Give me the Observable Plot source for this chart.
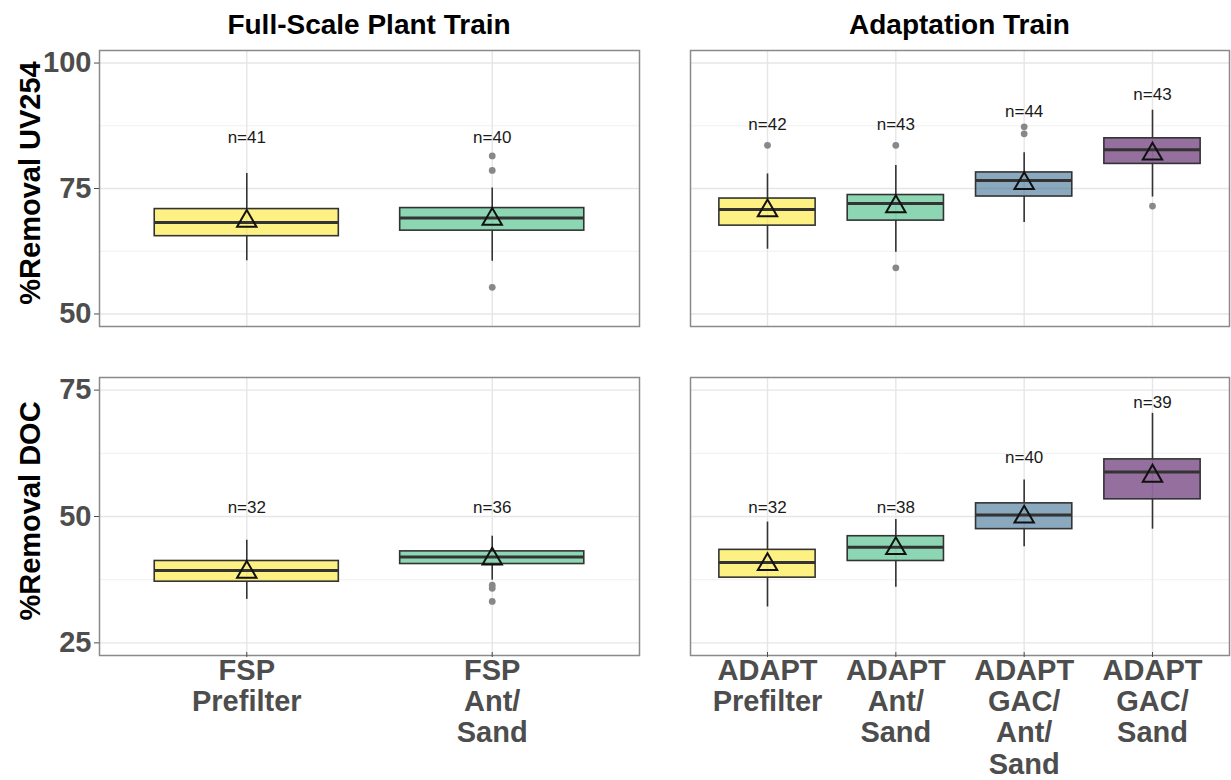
<!DOCTYPE html>
<html>
<head>
<meta charset="utf-8">
<script src="https://cdn.jsdelivr.net/npm/d3@7"></script>
<script src="https://cdn.jsdelivr.net/npm/@observablehq/plot@0.6"></script>
<style>
  body { margin: 0; background: #fff; }
  #chart { position: relative; width: 1231px; height: 780px; overflow: hidden;
           font-family: "Liberation Sans", Arial, Helvetica, sans-serif; }
  .strip { position: absolute; font-weight: bold; font-size: 28px; line-height: 28px;
           color: #000; text-align: center; white-space: nowrap; }
  .ytitle { position: absolute; font-weight: bold; font-size: 29px; line-height: 29px;
            color: #000; white-space: nowrap;
            transform: translate(-50%, -50%) rotate(-90deg); }
</style>
</head>
<body>
<div id="chart"></div>
<script>
// Treatment steps, in plotting order
const categories = ["FSP Prefilter", "FSP Ant/Sand", "ADAPT Prefilter", "ADAPT Ant/Sand", "ADAPT GAC/Ant/Sand", "ADAPT GAC/Sand"];
const tickLabels = ["FSP\nPrefilter", "FSP\nAnt/\nSand", "ADAPT\nPrefilter", "ADAPT\nAnt/\nSand", "ADAPT\nGAC/\nAnt/\nSand", "ADAPT\nGAC/\nSand"];
const trains = ["Full-Scale Plant Train", "Full-Scale Plant Train", "Adaptation Train", "Adaptation Train", "Adaptation Train", "Adaptation Train"];
const trainOrder = ["Full-Scale Plant Train", "Adaptation Train"];
const boxColors = ["#FDE725", "#35B779", "#FDE725", "#35B779", "#31688E", "#440154"];

// %Removal UV254: whisker ends, quartiles, median, mean, sample size, label height
const uvLow    = [60.6, 60.5, 62.9, 62.3, 68.2, 73.3];
const uvQ1     = [65.5, 66.6, 67.6, 68.6, 73.4, 79.9];
const uvMedian = [68.2, 69.1, 70.8, 72.0, 76.6, 82.7];
const uvQ3     = [70.9, 71.1, 73.0, 73.7, 78.2, 85.0];
const uvHigh   = [78.0, 75.1, 77.9, 79.6, 82.1, 90.6];
const uvMean   = [68.5, 68.9, 70.6, 71.4, 76.0, 81.9];
const uvN      = [41, 40, 42, 43, 44, 43];
const uvLabelAt = [85.2, 85.2, 87.8, 87.8, 90.4, 93.7];
const uvOutlierCat   = ["FSP Ant/Sand", "FSP Ant/Sand", "FSP Ant/Sand", "ADAPT Prefilter", "ADAPT Ant/Sand", "ADAPT Ant/Sand", "ADAPT GAC/Ant/Sand", "ADAPT GAC/Ant/Sand", "ADAPT GAC/Sand"];
const uvOutlierValue = [81.5, 78.6, 55.3, 83.6, 83.6, 59.2, 87.3, 85.9, 71.5];

// %Removal DOC
const docLow    = [33.6, 37.4, 32.1, 36.0, 44.0, 47.5];
const docQ1     = [37.1, 40.6, 37.9, 41.2, 47.5, 53.4];
const docMedian = [39.3, 42.0, 40.9, 43.9, 50.3, 58.8];
const docQ3     = [41.2, 43.1, 43.4, 46.1, 52.6, 61.3];
const docHigh   = [45.3, 46.1, 48.9, 49.4, 57.2, 70.4];
const docMean   = [39.0, 41.6, 40.5, 43.7, 49.9, 58.0];
const docN      = [32, 36, 32, 38, 40, 39];
const docLabelAt = [51.7, 51.7, 51.7, 51.7, 61.7, 72.6];
const docOutlierCat   = ["FSP Ant/Sand", "FSP Ant/Sand", "FSP Ant/Sand"];
const docOutlierValue = [36.4, 35.8, 33.2];

// y axes
const uvTicks = [50, 75, 100], uvMinor = [62.5, 87.5], uvDomain = [47.5, 102.5];
const docTicks = [25, 50, 75], docMinor = [37.5, 62.5], docDomain = [22.5, 77.5];
const rowTitles = ["%Removal UV254", "%Removal DOC"];

const FONT = '"Liberation Sans", Arial, Helvetica, sans-serif';
const chart = document.getElementById("chart");

// pixel frame of each panel
const cols = [{left: 99, right: 639}, {left: 690, right: 1229}];
const rows = [{top: 50, bottom: 326}, {top: 377, bottom: 655}];

function summarize(low, q1, med, q3, high, mean, n, labelAt) {
  return categories.map((cat, i) => ({
    cat, train: trains[i], color: boxColors[i], tick: tickLabels[i],
    lo: low[i], q1: q1[i], med: med[i], q3: q3[i], hi: high[i],
    mean: mean[i], n: n[i], labelAt: labelAt[i]
  }));
}
const measures = [
  {
    stats: summarize(uvLow, uvQ1, uvMedian, uvQ3, uvHigh, uvMean, uvN, uvLabelAt),
    outliers: uvOutlierCat.map((cat, i) => ({cat, v: uvOutlierValue[i]})),
    ticks: uvTicks, minor: uvMinor, domain: uvDomain
  },
  {
    stats: summarize(docLow, docQ1, docMedian, docQ3, docHigh, docMean, docN, docLabelAt),
    outliers: docOutlierCat.map((cat, i) => ({cat, v: docOutlierValue[i]})),
    ticks: docTicks, minor: docMinor, domain: docDomain
  }
];

const tickLabelOf = new Map(categories.map((c, i) => [c, tickLabels[i]]));

function drawPanel(rowIndex, colIndex) {
  const m = measures[rowIndex];
  const train = trainOrder[colIndex];
  const cats = categories.filter((c, i) => trains[i] === train);
  const stats = m.stats.filter(d => d.train === train);
  const outliers = m.outliers.filter(d => cats.includes(d.cat));
  const c = cols[colIndex], r = rows[rowIndex];
  const showY = colIndex === 0, showX = rowIndex === 1;
  const mL = showY ? c.left : 12, mR = 2, mT = 14, mB = showX ? 124 : 14;

  const marks = [
    Plot.ruleY(m.minor, {stroke: "#eeeeee", strokeWidth: 0.9}),
    Plot.ruleY(m.ticks, {stroke: "#e6e6e6", strokeWidth: 1.4}),
    Plot.ruleX(cats, {stroke: "#e6e6e6", strokeWidth: 1.4}),
    Plot.ruleX(stats, {x: "cat", y1: "q3", y2: "hi", stroke: "#333", strokeWidth: 1.6}),
    Plot.ruleX(stats, {x: "cat", y1: "lo", y2: "q1", stroke: "#333", strokeWidth: 1.6}),
    Plot.barY(stats, {x: "cat", y1: "q1", y2: "q3", fill: "color", fillOpacity: 0.57, stroke: "#333", strokeWidth: 1.6}),
    Plot.tickY(stats, {x: "cat", y: "med", stroke: "#333", strokeWidth: 3}),
    Plot.dot(outliers, {x: "cat", y: "v", r: 3.4, fill: "#888", stroke: null}),
    Plot.dot(stats, {x: "cat", y: "mean", symbol: "triangle", r: 7.2, stroke: "#111", strokeWidth: 2, fill: "none"}),
    Plot.text(stats, {x: "cat", y: "labelAt", text: d => `n=${d.n}`, fontSize: 17, fill: "#1a1a1a"}),
    Plot.frame({stroke: "#8a8a8a", strokeWidth: 1.5})
  ];
  if (showY) marks.push(Plot.axisY({ticks: m.ticks, tickSize: 5, tickPadding: 3, fontSize: 29, fontWeight: "bold", color: "#4d4d4d", label: null}));
  if (showX) marks.push(Plot.axisX({tickSize: 5, tickPadding: 0, dy: -3, tickFormat: d => tickLabelOf.get(d), fontSize: 29, fontWeight: "bold", lineHeight: 1.08, color: "#4d4d4d", label: null}));

  const svg = Plot.plot({
    width: c.right - c.left + mL + mR,
    height: r.bottom - r.top + mT + mB,
    marginLeft: mL, marginRight: mR, marginTop: mT, marginBottom: mB,
    x: {type: "band", domain: cats, paddingInner: 0.25, paddingOuter: 0.225, round: false, axis: null},
    y: {domain: m.domain, axis: null},
    style: {fontFamily: FONT, background: "transparent", overflow: "visible"},
    marks
  });
  svg.style.position = "absolute";
  svg.style.left = `${c.left - mL}px`;
  svg.style.top = `${r.top - mT}px`;
  chart.appendChild(svg);
}

for (let ri = 0; ri < 2; ri++) for (let ci = 0; ci < 2; ci++) drawPanel(ri, ci);

// column strips
trainOrder.forEach((t, i) => {
  const d = document.createElement("div");
  d.className = "strip";
  d.textContent = t;
  d.style.left = `${cols[i].left}px`;
  d.style.width = `${cols[i].right - cols[i].left}px`;
  d.style.top = "11px";
  chart.appendChild(d);
});

// row titles
rowTitles.forEach((t, i) => {
  const d = document.createElement("div");
  d.className = "ytitle";
  d.textContent = t;
  d.style.left = "30px";
  d.style.top = `${(rows[i].top + rows[i].bottom) / 2 - 5}px`;
  chart.appendChild(d);
});
</script>
</body>
</html>
